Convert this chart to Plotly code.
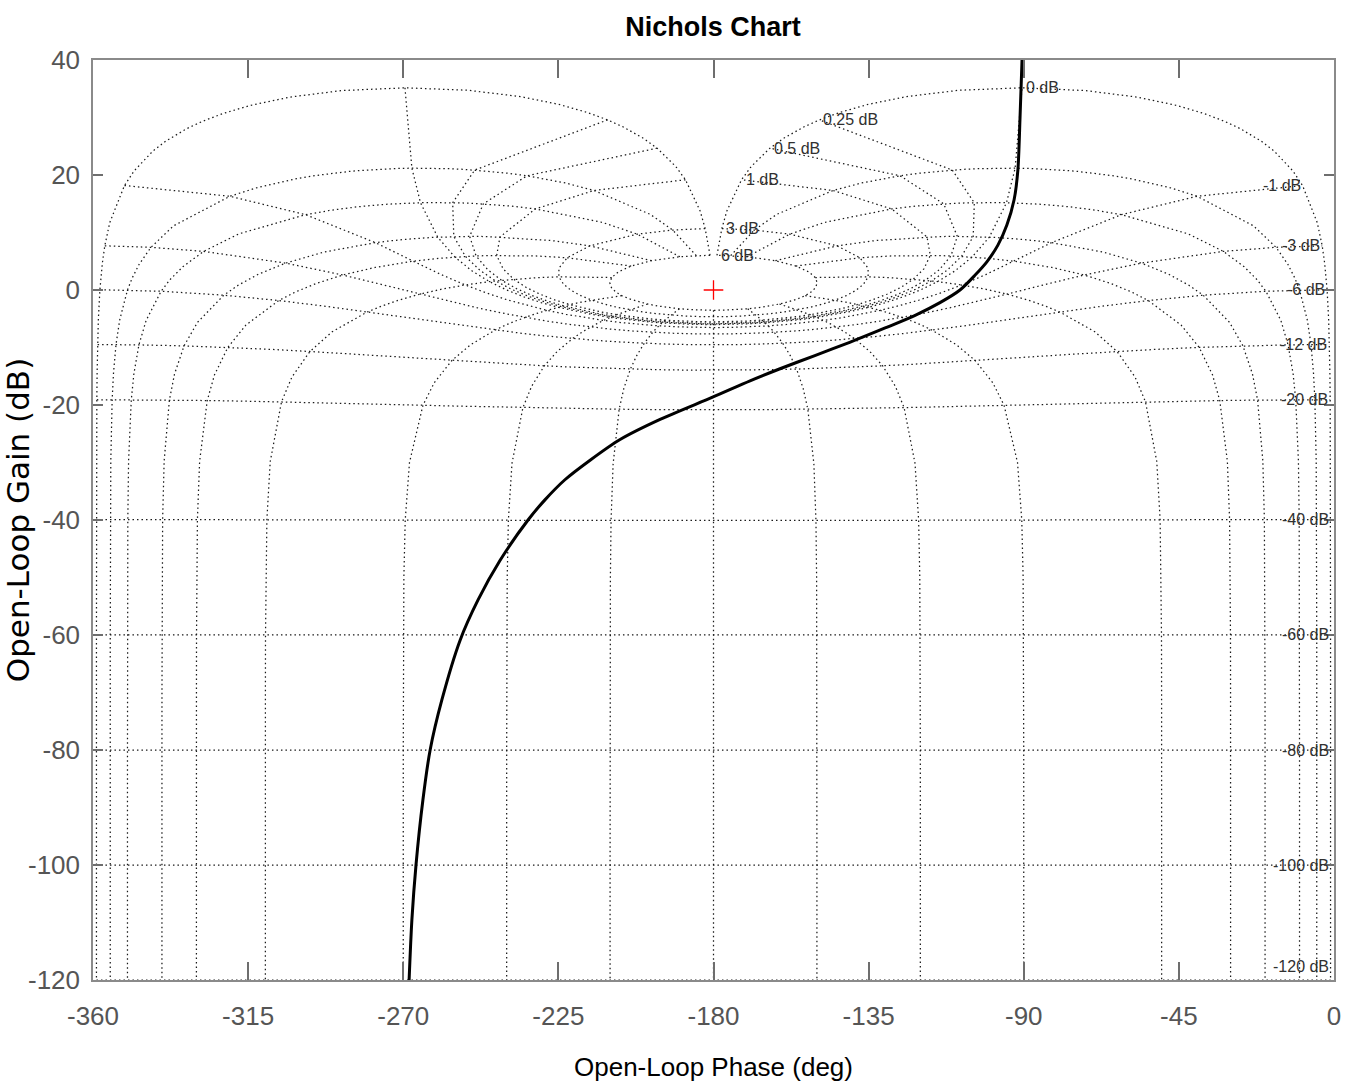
import numpy as np
import plotly.graph_objects as go

# ---- open-loop response (phase deg, gain dB) ----
curve_phase = [-90.5, -91.1, -91.7, -92.8, -94.9, -97.5, -100.7, -104.1, -108.5, -114.3,
               -121.5, -130.2, -140.5, -150.6, -160.7, -169.4, -180.1, -195.5, -207.1,
               -215.8, -223.1, -228.9, -233.8, -241.9, -248.3, -253.5, -258.8, -262.2,
               -264.3, -266.3, -267.5, -268.3]
curve_gain = [40.0, 29.6, 20.9, 15.7, 11.3, 7.8, 4.9, 2.6, 0.0, -2.2,
              -4.4, -6.6, -9.1, -11.4, -13.7, -15.8, -18.6, -22.5, -26.0,
              -29.6, -33.0, -36.5, -40.0, -47.0, -53.9, -60.9, -71.3, -80.0,
              -88.7, -100.0, -109.6, -120.0]

# ---- Nichols grid definition ----
iso_phase = [1, 5, 10, 20, 30, 50, 90, 120, 150, 180]
iso_phase_gains = [6, 3, 2, 1, .75, .5, .4, .3, .25, .2, .15, .1, .05, 0, -.05, -.1, -.15, -.2,
                   -.25, -.3, -.4, -.5, -.75, -1, -2, -3, -4, -5, -6, -9, -12, -16, -20, -30,
                   -40, -50, -60, -70, -80, -90, -100, -110, -120]
iso_gain = [6, 3, 1, .5, .25, 0, -1, -3, -6, -12, -20, -40, -60, -80, -100, -120]
iso_gain_phases = [1, 5, 10, 20, 30, 40, 50, 60, 70, 80, 90, 100, 110, 120, 130, 140, 150, 160, 170, 180]
iso_gain_labels = ["6 dB", "3 dB", "1 dB", "0.5 dB", "0.25 dB", "0 dB", "-1 dB", "-3 dB", "-6 dB",
                   "-12 dB", "-20 dB", "-40 dB", "-60 dB", "-80 dB", "-100 dB", "-120 dB"]

x_ticks = [-360, -315, -270, -225, -180, -135, -90, -45, 0]
y_ticks = [-120, -100, -80, -60, -40, -20, 0, 20, 40]

SANS = "Liberation Sans, Arial, Helvetica, sans-serif"


def open_loop(mag_db, phase_deg):
    z = 10 ** (np.asarray(mag_db) / 20.0) * np.exp(1j * np.deg2rad(np.asarray(phase_deg)))
    h = z / (1 - z)
    gain = 20 * np.log10(np.abs(h))
    ph = np.remainder(np.rad2deg(np.angle(h)) + 360, 360) - 360
    return ph, gain


GRID_COLOR = "#1a1a1a"
GRID_DASH = "1.5px,3px"

fig = go.Figure()

# iso-phase lines (both halves)
for p in iso_phase:
    for sgn in (1, -1):
        if p == 180 and sgn == -1:
            continue
        ph, g = open_loop(iso_phase_gains, [sgn * p] * len(iso_phase_gains))
        fig.add_trace(go.Scatter(x=ph, y=g, mode="lines", hoverinfo="skip", showlegend=False,
                                 line=dict(color=GRID_COLOR, width=1.25, dash=GRID_DASH)))

# iso-gain contours
full_p = iso_gain_phases + [360 - v for v in iso_gain_phases[:-1][::-1]]
for gdb, lab in zip(iso_gain, iso_gain_labels):
    ph, g = open_loop([gdb] * len(full_p), full_p)
    fig.add_trace(go.Scatter(x=ph, y=g, mode="lines", hoverinfo="skip", showlegend=False,
                             line=dict(color=GRID_COLOR, width=1.25, dash=GRID_DASH)))
    lx, ly = ph[-1], g[-1]
    at_bottom = ly <= -119
    fig.add_annotation(x=lx, y=ly, text=lab, showarrow=False,
                       xanchor="left" if gdb >= 0 else "right",
                       yanchor="bottom" if at_bottom else "middle",
                       xshift=2 if gdb >= 0 else 0,
                       yshift=3 if at_bottom else 0,
                       font=dict(family=SANS, size=16, color="#303030"))

# critical point
fig.add_trace(go.Scatter(x=[-180], y=[0], mode="markers", hoverinfo="skip", showlegend=False,
                         marker=dict(symbol="cross-thin", size=14, line=dict(color="red", width=1.3))))

# open-loop curve
fig.add_trace(go.Scatter(x=curve_phase, y=curve_gain, mode="lines", showlegend=False,
                         line=dict(color="black", width=3, shape="spline", smoothing=0.8)))

axis_common = dict(showgrid=False, zeroline=False, showline=True, linecolor="#8a8a8a", linewidth=1.5,
                   mirror="ticks", ticks="inside", tickcolor="#6e6e6e", tickwidth=1.5, automargin=False,
                   tickfont=dict(family=SANS, size=26, color="#555555"))

fig.update_layout(
    width=1352, height=1085,
    margin=dict(l=93, r=18, t=60, b=105),
    paper_bgcolor="white", plot_bgcolor="white",
    title=dict(text="<b>Nichols Chart</b>", x=713 / 1352, xanchor="center", y=1 - 27 / 1085, yanchor="middle",
               font=dict(family=SANS, size=27, color="black")),
    xaxis=dict(range=[-360, 0], tickvals=x_ticks, ticktext=[str(v) for v in x_ticks], ticklen=18,
               ticklabelstandoff=12,
               title=dict(text="Open-Loop Phase (deg)", standoff=28,
                          font=dict(family=SANS, size=26, color="black")),
               **axis_common),
    yaxis=dict(range=[-120, 40], tickvals=y_ticks, ticktext=[str(v) for v in y_ticks], ticklen=10,
               ticklabelstandoff=6,
               title=dict(text="Open-Loop Gain (dB)", standoff=16,
                          font=dict(family="DejaVu Sans, Liberation Sans, sans-serif", size=31, color="black")),
               **axis_common),
)

fig.write_html("out.html")
